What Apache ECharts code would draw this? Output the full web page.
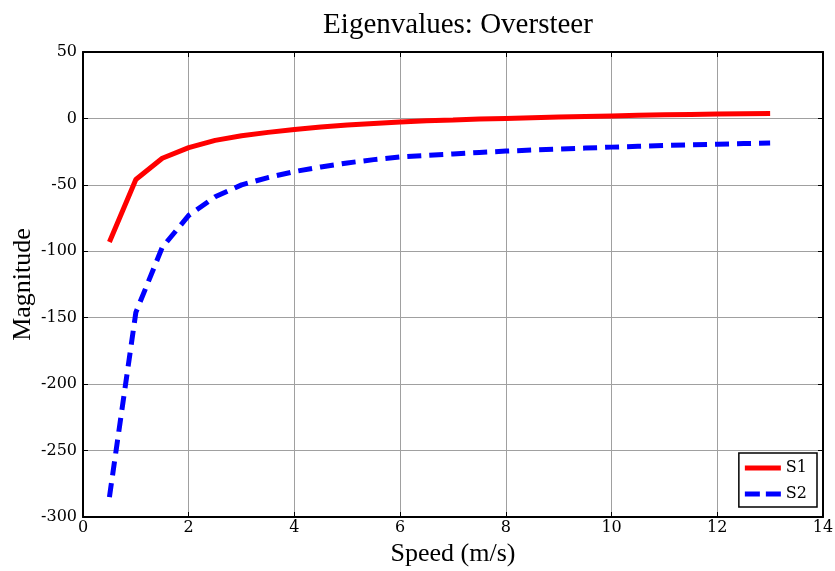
<!DOCTYPE html>
<html>
<head>
<meta charset="utf-8">
<script src="https://cdn.jsdelivr.net/npm/echarts@6/dist/echarts.min.js"></script>
<style>
html,body{margin:0;padding:0;background:#fff;}
#chart{width:835px;height:571px;}
</style>
</head>
<body>
<div id="chart"></div>
<script>
// speeds (m/s)
var speed = [0.5,1,1.5,2,2.5,3,3.5,4,4.5,5,5.5,6,6.5,7,7.5,8,8.5,9,9.5,10,10.5,11,11.5,12,12.5,13];
// eigenvalue 1
var s1 = [-93,-46,-30,-22,-16.5,-13,-10.5,-8.3,-6.5,-5,-3.8,-2.6,-1.8,-1.2,-0.5,0,0.5,1,1.5,1.9,2.3,2.7,3,3.3,3.6,3.8];
// eigenvalue 2
var s2 = [-285,-146,-97,-73,-59,-50,-44.5,-40,-36.5,-33.5,-31,-29,-27.8,-26.7,-25.6,-24.6,-23.8,-23,-22.3,-21.6,-21,-20.4,-19.9,-19.4,-18.9,-18.5];

function pairs(xs, ys) {
  var out = [];
  for (var i = 0; i < xs.length; i++) out.push([xs[i], ys[i]]);
  return out;
}

var myChart = echarts.init(document.getElementById('chart'));
var tickFont = {fontFamily:'DejaVu Serif', fontSize:16, color:'#000'};

var option = {
  animation:false,
  backgroundColor:'#fff',
  title:{
    text:'Eigenvalues: Oversteer',
    left:453, top:6, textAlign:'center',
    textStyle:{fontFamily:'Liberation Serif', fontSize:29, fontWeight:'normal', color:'#000'}
  },
  grid:{left:83, right:12, top:52, bottom:54, outerBoundsMode:'none'},
  legend:{
    orient:'vertical',
    right:18, bottom:64,
    itemWidth:36, itemHeight:5, itemGap:10,
    padding:[7,10,5,6],
    borderColor:'#000', borderWidth:1.5,
    backgroundColor:'#fff',
    textStyle:{fontFamily:'DejaVu Serif', fontSize:16, color:'#000'},
    data:[
      {name:'S1', icon:'rect'},
      {name:'S2', icon:'path://M0,0h15v5h-15zM21,0h15v5h-15z'}
    ]
  },
  xAxis:[{
    type:'value', min:0, max:14, interval:2,
    name:'Speed (m/s)', nameLocation:'middle', nameGap:24, nameMoveOverlap:false,
    nameTextStyle:{fontFamily:'Liberation Serif', fontSize:26, color:'#000'},
    axisLine:{onZero:false, lineStyle:{color:'#000', width:2}},
    axisTick:{inside:true, length:5, lineStyle:{color:'#000'}},
    axisLabel:Object.assign({margin:3}, tickFont),
    splitLine:{show:true, lineStyle:{color:'#a0a0a0', width:1}}
  },{
    type:'value', min:0, max:14, interval:2, position:'top',
    axisLine:{show:true, onZero:false, lineStyle:{color:'#000', width:2}},
    axisTick:{inside:true, length:5, lineStyle:{color:'#000'}},
    axisLabel:{show:false}, splitLine:{show:false}
  }],
  yAxis:[{
    type:'value', min:-300, max:50, interval:50,
    name:'Magnitude', nameLocation:'middle', nameGap:47, nameMoveOverlap:false,
    nameTextStyle:{fontFamily:'Liberation Serif', fontSize:26, color:'#000'},
    axisLine:{onZero:false, lineStyle:{color:'#000', width:2}},
    axisTick:{inside:true, length:5, lineStyle:{color:'#000'}},
    axisLabel:Object.assign({margin:6}, tickFont),
    splitLine:{show:true, lineStyle:{color:'#a0a0a0', width:1}}
  },{
    type:'value', min:-300, max:50, interval:50, position:'right',
    axisLine:{show:true, onZero:false, lineStyle:{color:'#000', width:2}},
    axisTick:{inside:true, length:5, lineStyle:{color:'#000'}},
    axisLabel:{show:false}, splitLine:{show:false}
  }],
  series:[{
    name:'S1', type:'line', showSymbol:false, symbol:'none',
    data:pairs(speed, s1),
    lineStyle:{color:'#ff0000', width:5},
    itemStyle:{color:'#ff0000'}
  },{
    name:'S2', type:'line', showSymbol:false, symbol:'none',
    data:pairs(speed, s2),
    lineStyle:{color:'#0000ff', width:5, type:[14,8]},
    itemStyle:{color:'#0000ff'}
  }]
};
myChart.setOption(option);
</script>
</body>
</html>
